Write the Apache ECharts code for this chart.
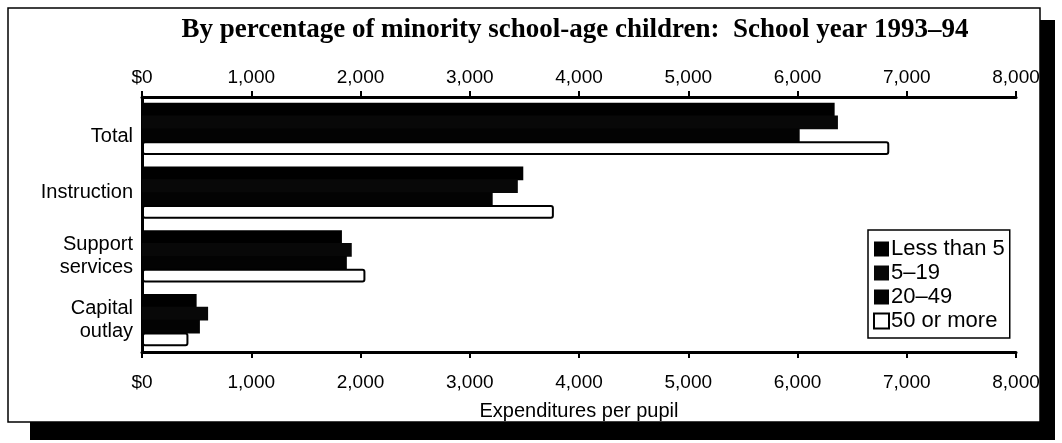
<!DOCTYPE html>
<html>
<head>
<meta charset="utf-8">
<script src="https://cdn.jsdelivr.net/npm/echarts@6/dist/echarts.min.js"></script>
<style>
  html, body { margin: 0; padding: 0; background: #fff; }
  #chart { width: 1062px; height: 443px; }
</style>
</head>
<body>
<div id="chart"></div>
<script>
const categories = ['Total', 'Instruction', 'Support\nservices', 'Capital\noutlay'];
const seriesNames = ['Less than 5', '5\u201319', '20\u201349', '50 or more'];
const lessThan5 = [6340, 3490, 1830, 500];
const from5to19 = [6370, 3440, 1920, 605];
const from20to49 = [6020, 3210, 1875, 530];
const fiftyOrMore = [6840, 3770, 2045, 425];
const xTicks = [0, 1000, 2000, 3000, 4000, 5000, 6000, 7000, 8000];
const titleText = 'By percentage of minority school-age children:  School year 1993\u201394';
const axisName = 'Expenditures per pupil';

const chart = echarts.init(document.getElementById('chart'), null, { renderer: 'canvas' });
const fmt = v => v === 0 ? '$0' : v.toLocaleString('en-US');
const font = 'Liberation Sans';

const baseX = {
  type: 'value', min: xTicks[0], max: xTicks[xTicks.length - 1], interval: 1000,
  splitLine: { show: false },
  axisLine: { show: true, lineStyle: { color: '#000', width: 3 } },
  axisTick: { show: true, inside: false, length: 6, lineStyle: { color: '#000', width: 2 } },
  axisLabel: { formatter: fmt, color: '#000', fontFamily: font, fontSize: 19 }
};

const mkSeries = (name, data, color, border, radius) => ({
  name, type: 'bar', data, xAxisIndex: 0, barGap: '-6%', barCategoryGap: '18%',
  itemStyle: { color, borderColor: '#000', borderWidth: border, borderRadius: radius }
});

chart.setOption({
  animation: false,
  backgroundColor: '#fff',
  graphic: [
    { type: 'rect', z: -10, shape: { x: 30, y: 20, width: 1025, height: 420 }, style: { fill: '#000' } },
    { type: 'rect', z: -9, shape: { x: 8, y: 8, width: 1032, height: 414 }, style: { fill: '#fff', stroke: '#000', lineWidth: 1.5 } },
    { type: 'text', z: 5, x: 575, y: 30, style: { text: titleText, fill: '#000', font: 'bold 27px "Liberation Serif"', align: 'center', verticalAlign: 'middle' } }
  ],
  grid: { left: 142, right: 46, top: 97, bottom: 91, containLabel: false },
  xAxis: [
    Object.assign({}, baseX, { position: 'bottom', axisLabel: Object.assign({}, baseX.axisLabel, { margin: 21 }),
      name: axisName, nameLocation: 'middle', nameGap: 49,
      nameTextStyle: { color: '#000', fontFamily: font, fontSize: 20 } }),
    Object.assign({}, baseX, { position: 'top', axisLabel: Object.assign({}, baseX.axisLabel, { margin: 10 }) })
  ],
  yAxis: {
    type: 'category', data: categories, inverse: true,
    axisLine: { show: true, lineStyle: { color: '#000', width: 3 } },
    axisTick: { show: false },
    axisLabel: { color: '#000', fontFamily: font, fontSize: 20, margin: 9, align: 'right', lineHeight: 23,
      formatter: v => v === 'Total' ? '{t|' + v + '}' : v,
      rich: { t: { color: '#000', fontFamily: font, fontSize: 20, padding: [16, 0, 0, 0] } } }
  },
  legend: {
    orient: 'vertical', left: 868, top: 230, data: seriesNames,
    backgroundColor: '#fff', borderColor: '#000', borderWidth: 1.5, padding: [8, 5, 6, 5],
    itemWidth: 15, itemHeight: 15, itemGap: 2, icon: 'rect',
    textStyle: { color: '#000', fontFamily: font, fontSize: 22, padding: [0, 0, 0, -3] }
  },
  series: [
    mkSeries(seriesNames[0], lessThan5, '#000', 0, 0),
    mkSeries(seriesNames[1], from5to19, '#080808', 0, 0),
    mkSeries(seriesNames[2], from20to49, '#030303', 0, 0),
    mkSeries(seriesNames[3], fiftyOrMore, '#fff', 2, 2)
  ]
});
</script>
</body>
</html>
